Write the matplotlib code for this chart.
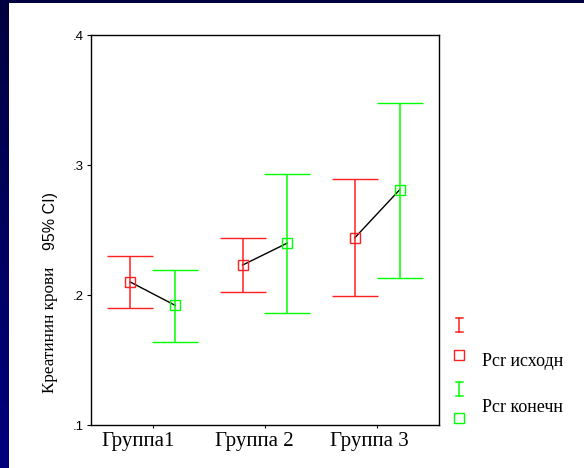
import numpy as np
import matplotlib.pyplot as plt
import matplotlib.transforms as mtrans

groups = ['Группа1', 'Группа 2', 'Группа 3']
# Pcr исходн (red)
start_mean = [0.210, 0.223, 0.244]
start_lo = [0.190, 0.2025, 0.199]
start_hi = [0.230, 0.244, 0.289]
# Pcr конечн (green)
end_mean = [0.192, 0.240, 0.281]
end_lo = [0.164, 0.186, 0.213]
end_hi = [0.219, 0.293, 0.348]
yticks = [0.1, 0.2, 0.3, 0.4]
ytick_labels = ['.1', '.2', '.3', '.4']

W, H = 584, 468
RED = '#ff2020'
GREEN = '#00ff00'
serif = 'Liberation Serif'
sans = 'Liberation Sans'

fig = plt.figure(figsize=(W / 100, H / 100), dpi=100)
fig.patch.set_facecolor('white')

# background overlay in pixel coordinates
bg = fig.add_axes([0, 0, 1, 1], zorder=-5)
bg.set_xlim(0, W)
bg.set_ylim(H, 0)
bg.axis('off')
grad = np.linspace(0, 1, 256).reshape(-1, 1)
bg.imshow(np.dstack([grad * 0, grad * 0, 0.25 + 0.25 * grad]),
          extent=[0, 9, H, 0], aspect='auto')
bg.add_patch(plt.Rectangle((0, 0), W, 3, color='#000040', lw=0))

# main axes
ax = fig.add_axes([91 / W, (H - 425) / H, 348 / W, 390 / H])
x = np.arange(1, len(groups) + 1)
off = 0.2
xs = x - off
xe = x + off
sm, em_ = np.array(start_mean), np.array(end_mean)

for i in range(len(groups)):
    ax.plot([xs[i], xe[i]], [sm[i], em_[i]], color='black', lw=1, zorder=1)

ax.errorbar(xs, sm, yerr=[sm - np.array(start_lo), np.array(start_hi) - sm],
            fmt='s', mfc='none', mec=RED, ecolor=RED, ms=7.5, mew=1,
            capsize=16.5, elinewidth=1.1, capthick=1.1, zorder=2)
ax.errorbar(xe, em_, yerr=[em_ - np.array(end_lo), np.array(end_hi) - em_],
            fmt='s', mfc='none', mec=GREEN, ecolor=GREEN, ms=7.5, mew=1,
            capsize=16.5, elinewidth=1.1, capthick=1.1, zorder=2)

ax.set_xlim(0.45, 3.55)
ax.set_ylim(0.1, 0.4)
ax.set_xticks(x)
ax.set_xticklabels([])
# labels sit a little left of the group centres in the original
for xi, name, dx in zip(x, groups, [-15, -11, -8]):
    tr = ax.get_xaxis_transform() + mtrans.ScaledTranslation(dx / 100, -0.07, fig.dpi_scale_trans)
    ax.text(xi, 0, name, transform=tr, ha='center', va='top',
            fontfamily=serif, fontsize=15)
ax.set_yticks(yticks)
ax.set_yticklabels(ytick_labels, fontfamily=sans, fontsize=9.5)
ax.tick_params(axis='y', direction='out', length=3, width=0.8, pad=2)
ax.tick_params(axis='x', direction='out', length=2, width=0.8)
for s in ax.spines.values():
    s.set_linewidth(1)
    s.set_color('black')

# y label (mixed fonts, as in the original)
bg.text(50, 330, 'Креатинин крови', rotation=90, ha='center', va='center',
        fontfamily=serif, fontsize=12.3)
bg.text(50, 221, '95% CI)', rotation=90, ha='center', va='center',
        fontfamily=sans, fontsize=11.5)

# legend
def leg_bar(xc, yc, color):
    bg.plot([xc, xc], [yc - 7, yc + 7], color=color, lw=1.1)
    bg.plot([xc - 3.5, xc + 3.5], [yc - 7, yc - 7], color=color, lw=1.1)
    bg.plot([xc - 3.5, xc + 3.5], [yc + 7, yc + 7], color=color, lw=1.1)

leg_bar(459, 325, RED)
bg.plot([459], [355], 's', mfc='none', mec=RED, ms=7.5, mew=1)
leg_bar(459, 389, GREEN)
bg.plot([459], [418], 's', mfc='none', mec=GREEN, ms=7.5, mew=1)
bg.text(482, 361, 'Pcr исходн', ha='left', va='center', fontfamily=serif, fontsize=13)
bg.text(482, 407, 'Pcr конечн', ha='left', va='center', fontfamily=serif, fontsize=13)

fig.savefig('out.png', dpi=100)
